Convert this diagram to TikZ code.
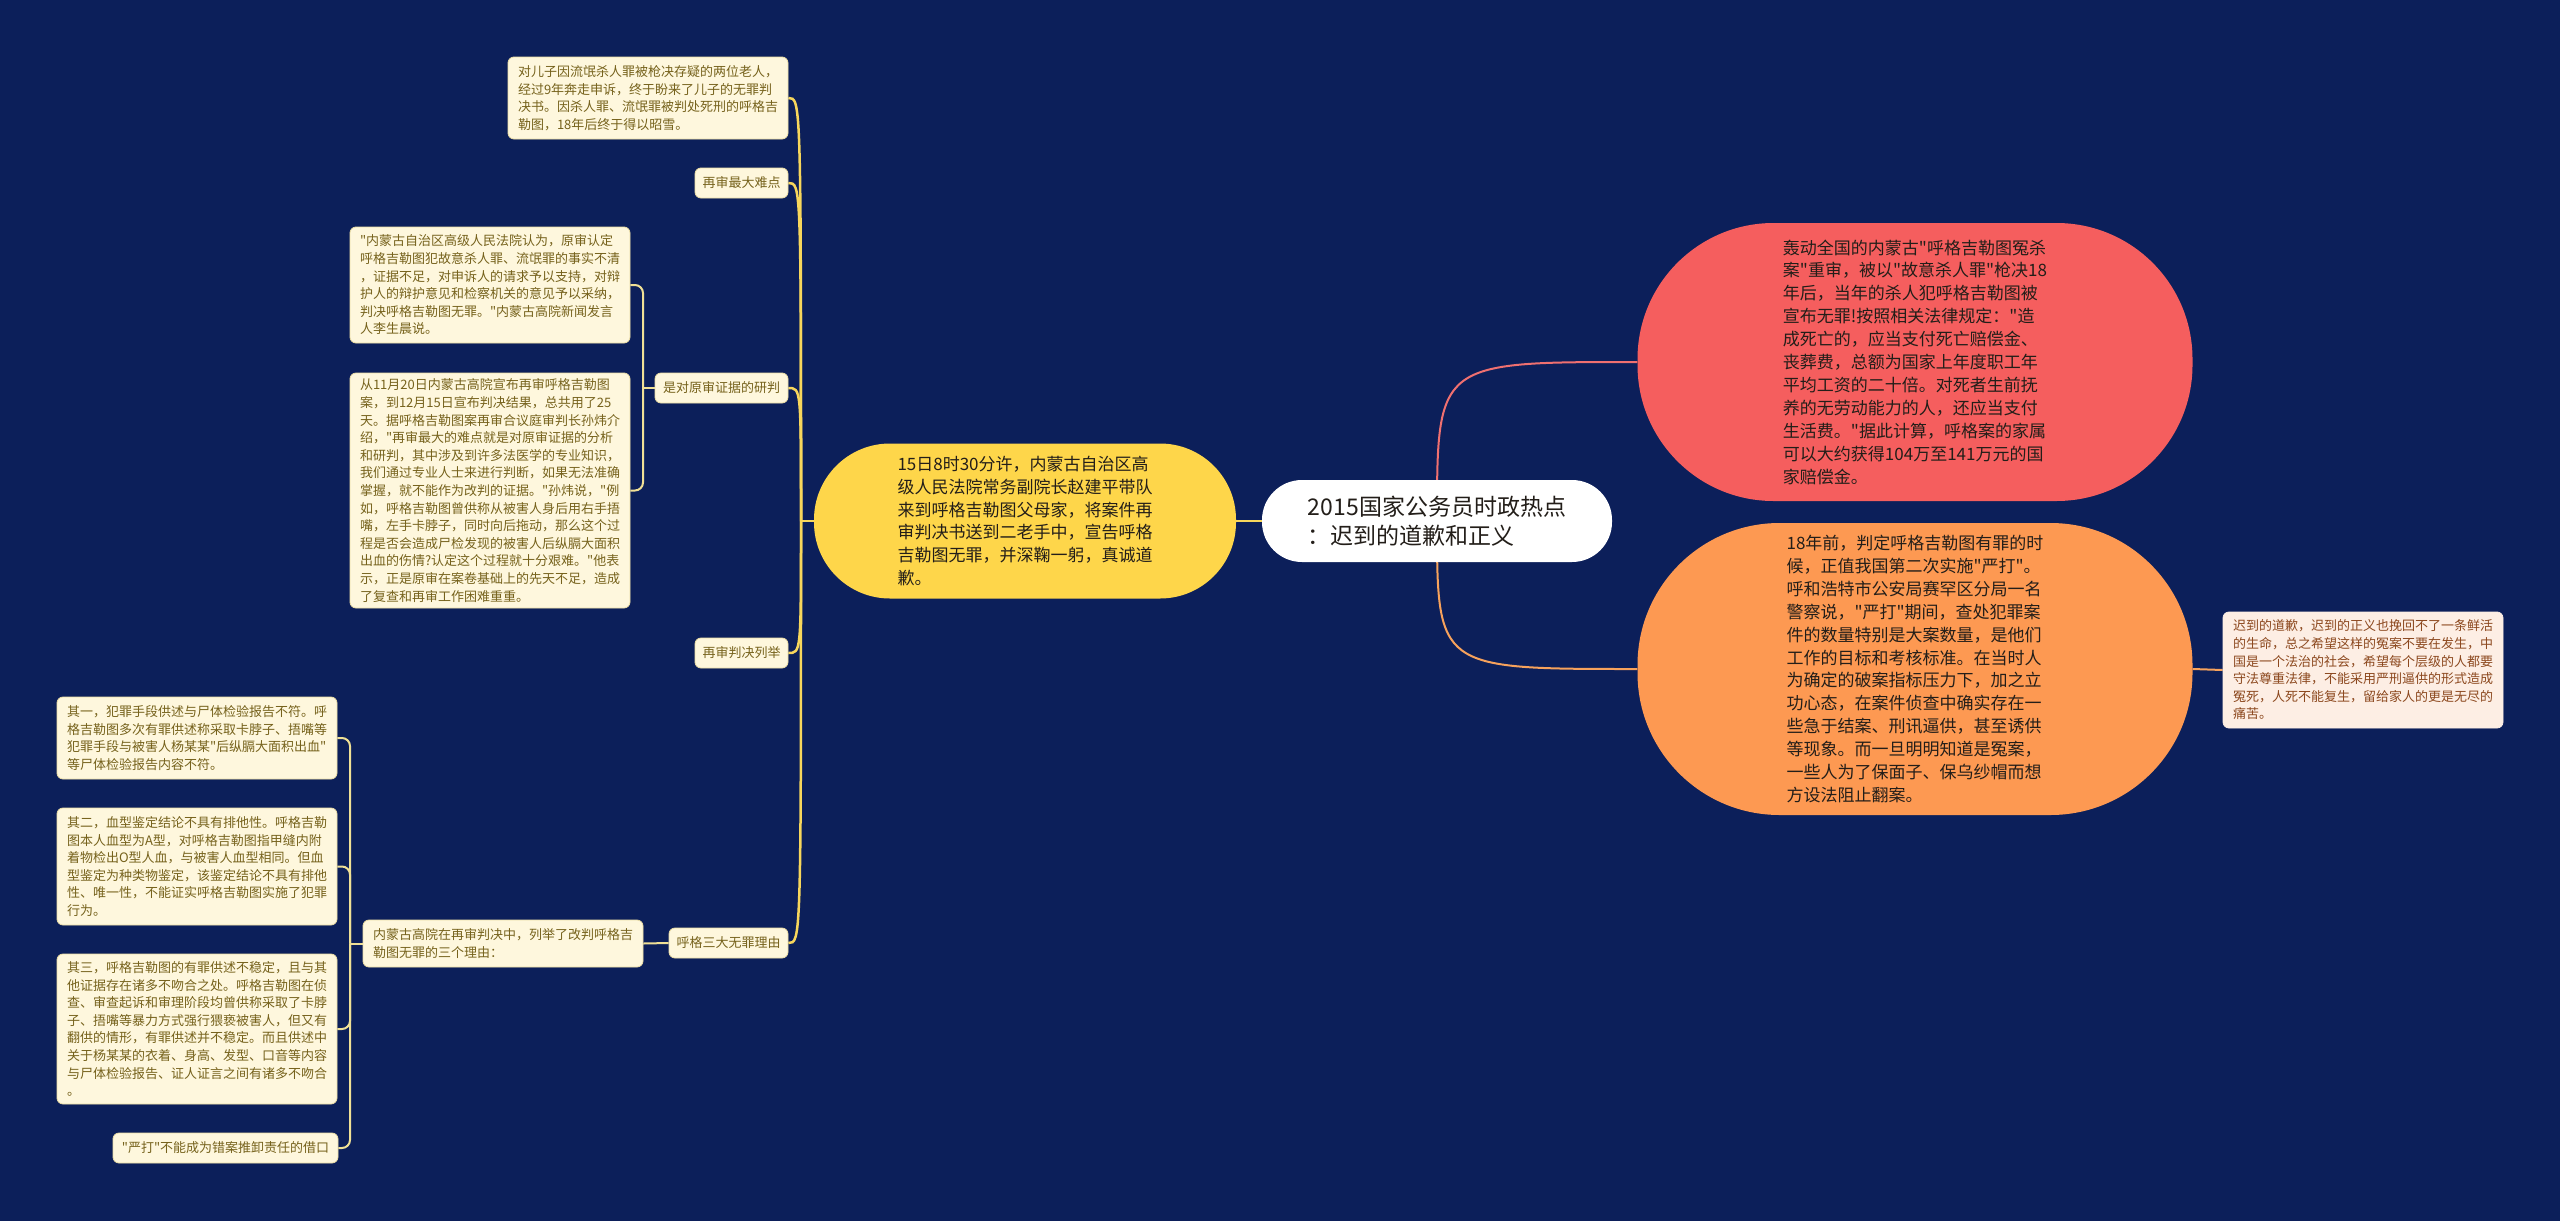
\documentclass[tikz,border=0pt]{standalone}
\usepackage{fontspec}
\setmainfont{Noto Sans CJK SC}[Ligatures=TeXOff]
\pgfdeclarelayer{back}
\pgfdeclarelayer{bg}
\pgfsetlayers{back,bg,main}
\definecolor{bgc}{RGB}{12,31,90}
\definecolor{leaffill}{RGB}{254,247,221}
\definecolor{leaftext}{RGB}{118,98,28}
\definecolor{leafborder}{RGB}{236,222,165}
\definecolor{trunkc}{RGB}{247,214,92}
\definecolor{brc}{RGB}{240,224,150}
\definecolor{yelfill}{RGB}{254,214,74}
\definecolor{redfill}{RGB}{245,94,94}
\definecolor{orfill}{RGB}{253,153,82}
\definecolor{palefill}{RGB}{253,238,228}
\definecolor{paletext}{RGB}{140,72,30}
\definecolor{pinkc}{RGB}{240,112,112}
\definecolor{orc}{RGB}{247,162,92}
\definecolor{darktext}{RGB}{35,30,25}
\begin{document}
\begin{tikzpicture}[x=1pt,y=-1pt,
  leaf/.style={draw=leafborder,line width=0.8pt,fill=leaffill,text=leaftext,rounded corners=6pt,inner sep=0pt,align=left,font=\fontsize{13}{17.6}\selectfont},
  tag/.style={leaf,align=center},
  big/.style={inner sep=0pt,align=left,text=darktext,font=\fontsize{17}{22.9}\selectfont},
  trunk/.style={draw=trunkc,line width=2.5pt},
  brline/.style={draw=brc,line width=2pt,rounded corners=8pt},
]
\begin{pgfonlayer}{back}
\fill[bgc] (0,0) rectangle (2560,1221);
\end{pgfonlayer}
\useasboundingbox (0,0) rectangle (2560,1221);

% root and main branches
\node[fill=white,rounded corners=40pt,minimum width=350pt,minimum height=82pt,inner sep=0pt,align=left,text=darktext,font=\fontsize{23}{29}\selectfont] (R) at (1437,521) {2015国家公务员时政热点\\：迟到的道歉和正义};
\node[big,fill=yelfill,rounded corners=76pt,minimum width=422pt,minimum height=155pt] (Y) at (1025,521) {15日8时30分许，内蒙古自治区高\\级人民法院常务副院长赵建平带队\\来到呼格吉勒图父母家，将案件再\\审判决书送到二老手中，宣告呼格\\吉勒图无罪，并深鞠一躬，真诚道\\歉。};
\node[big,fill=redfill,rounded corners=136pt,minimum width=555pt,minimum height=278pt] (Rd) at (1915,362) {轰动全国的内蒙古"呼格吉勒图冤杀\\案"重审，被以"故意杀人罪"枪决18\\年后，当年的杀人犯呼格吉勒图被\\宣布无罪!按照相关法律规定："造\\成死亡的，应当支付死亡赔偿金、\\丧葬费，总额为国家上年度职工年\\平均工资的二十倍。对死者生前抚\\养的无劳动能力的人，还应当支付\\生活费。"据此计算，呼格案的家属\\可以大约获得104万至141万元的国\\家赔偿金。};
\node[big,fill=orfill,rounded corners=142pt,minimum width=555pt,minimum height=292pt] (O) at (1915,669) {18年前，判定呼格吉勒图有罪的时\\候，正值我国第二次实施"严打"。\\呼和浩特市公安局赛罕区分局一名\\警察说，"严打"期间，查处犯罪案\\件的数量特别是大案数量，是他们\\工作的目标和考核标准。在当时人\\为确定的破案指标压力下，加之立\\功心态，在案件侦查中确实存在一\\些急于结案、刑讯逼供，甚至诱供\\等现象。而一旦明明知道是冤案，\\一些人为了保面子、保乌纱帽而想\\方设法阻止翻案。};
\node[leaf,fill=palefill,draw=palefill,text=paletext,minimum width=280pt,minimum height=116pt] (P) at (2363,670) {迟到的道歉，迟到的正义也挽回不了一条鲜活\\的生命，总之希望这样的冤案不要在发生，中\\国是一个法治的社会，希望每个层级的人都要\\守法尊重法律，不能采用严刑逼供的形式造成\\冤死，人死不能复生，留给家人的更是无尽的\\痛苦。};

% left side, level 2
\node[leaf,minimum width=280pt,minimum height=82pt] (T) at (648,98) {对儿子因流氓杀人罪被枪决存疑的两位老人，\\经过9年奔走申诉，终于盼来了儿子的无罪判\\决书。因杀人罪、流氓罪被判处死刑的呼格吉\\勒图，18年后终于得以昭雪。};
\node[tag,minimum width=93pt,minimum height=30pt] (La) at (741.5,183) {再审最大难点};
\node[tag,minimum width=133pt,minimum height=30pt] (Lb) at (721.5,388) {是对原审证据的研判};
\node[tag,minimum width=93pt,minimum height=30pt] (Lc) at (741.5,653) {再审判决列举};
\node[tag,minimum width=119pt,minimum height=30pt] (Ld) at (728.5,943) {呼格三大无罪理由};

% children of 研判
\node[leaf,minimum width=280pt,minimum height=116pt] (B1) at (490,285) {"内蒙古自治区高级人民法院认为，原审认定\\呼格吉勒图犯故意杀人罪、流氓罪的事实不清\\，证据不足，对申诉人的请求予以支持，对辩\\护人的辩护意见和检察机关的意见予以采纳，\\判决呼格吉勒图无罪。"内蒙古高院新闻发言\\人李生晨说。};
\node[leaf,minimum width=280pt,minimum height=235pt] (B2) at (490,490.5) {从11月20日内蒙古高院宣布再审呼格吉勒图\\案，到12月15日宣布判决结果，总共用了25\\天。据呼格吉勒图案再审合议庭审判长孙炜介\\绍，"再审最大的难点就是对原审证据的分析\\和研判，其中涉及到许多法医学的专业知识，\\我们通过专业人士来进行判断，如果无法准确\\掌握，就不能作为改判的证据。"孙炜说，"例\\如，呼格吉勒图曾供称从被害人身后用右手捂\\嘴，左手卡脖子，同时向后拖动，那么这个过\\程是否会造成尸检发现的被害人后纵膈大面积\\出血的伤情?认定这个过程就十分艰难。"他表\\示，正是原审在案卷基础上的先天不足，造成\\了复查和再审工作困难重重。};

% children of 三大无罪理由
\node[leaf,minimum width=280pt,minimum height=47pt] (D0) at (503,943.5) {内蒙古高院在再审判决中，列举了改判呼格吉\\勒图无罪的三个理由：};
\node[leaf,minimum width=280pt,minimum height=82pt] (D1) at (197,738) {其一，犯罪手段供述与尸体检验报告不符。呼\\格吉勒图多次有罪供述称采取卡脖子、捂嘴等\\犯罪手段与被害人杨某某"后纵膈大面积出血"\\等尸体检验报告内容不符。};
\node[leaf,minimum width=280pt,minimum height=117pt] (D2) at (197,866.5) {其二，血型鉴定结论不具有排他性。呼格吉勒\\图本人血型为A型，对呼格吉勒图指甲缝内附\\着物检出O型人血，与被害人血型相同。但血\\型鉴定为种类物鉴定，该鉴定结论不具有排他\\性、唯一性，不能证实呼格吉勒图实施了犯罪\\行为。};
\node[leaf,minimum width=280pt,minimum height=150pt] (D3) at (197,1029) {其三，呼格吉勒图的有罪供述不稳定，且与其\\他证据存在诸多不吻合之处。呼格吉勒图在侦\\查、审查起诉和审理阶段均曾供称采取了卡脖\\子、捂嘴等暴力方式强行猥亵被害人，但又有\\翻供的情形，有罪供述并不稳定。而且供述中\\关于杨某某的衣着、身高、发型、口音等内容\\与尸体检验报告、证人证言之间有诸多不吻合\\。};
\node[tag,minimum width=225pt,minimum height=30pt] (D4) at (225.5,1148) {"严打"不能成为错案推卸责任的借口};

\begin{pgfonlayer}{bg}
  % root connectors
  \draw[trunk] (R.center) -- (Y.east);
  \draw[draw=pinkc,line width=2pt] (R.center) .. controls (1437,362) .. (Rd.west);
  \draw[draw=orc,line width=2pt] (R.center) .. controls (1437,669) .. (O.west);
  \draw[draw=orc,line width=2pt] (O.east) -- (P.west);
  % yellow trunk
  \coordinate (J) at (801,521);
  \draw[trunk] (Y.west) -- (J);
  \draw[trunk] (J) .. controls (801,98) .. (T.east);
  \draw[trunk] (J) .. controls (801,183) .. (La.east);
  \draw[trunk] (J) .. controls (801,388) .. (Lb.east);
  \draw[trunk] (J) .. controls (801,653) .. (Lc.east);
  \draw[trunk] (J) .. controls (801,943) .. (Ld.east);
  % bracket for 研判
  \coordinate (JB) at (643,388);
  \draw[brline] (Lb.west) -- (JB);
  \draw[brline] (JB) |- (B1.east);
  \draw[brline] (JB) |- (B2.east);
  % bracket for 三大理由
  \draw[brline] (Ld.west) -- (D0.east);
  \coordinate (JD) at (350,943.5);
  \draw[brline] (D0.west) -- (JD);
  \draw[brline] (JD) |- (D1.east);
  \draw[brline] (JD) |- (D2.east);
  \draw[brline] (JD) |- (D3.east);
  \draw[brline] (JD) |- (D4.east);
\end{pgfonlayer}
\end{tikzpicture}
\end{document}
